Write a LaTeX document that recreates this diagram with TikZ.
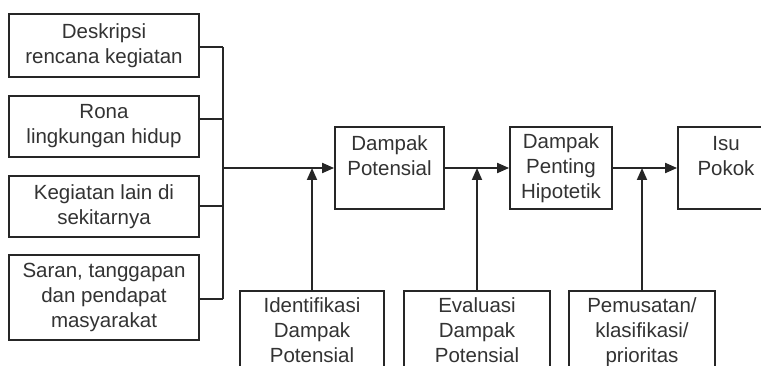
\documentclass[tikz,border=0pt]{standalone}
\usepackage{fontspec}
\setmainfont{Liberation Sans}
\usetikzlibrary{arrows.meta}
\definecolor{ln}{HTML}{262626}
\definecolor{tx}{HTML}{333333}
\begin{document}
\begin{tikzpicture}[x=1pt,y=-1pt,
  font=\fontsize{20.5}{25}\selectfont,
  every node/.style={text=tx},
  box/.style={draw=ln,line width=1.8pt,align=center,inner sep=0pt},
  lowbox/.style={draw=ln,line width=1.8pt,align=center,inner xsep=0pt,inner ysep=7pt,anchor=north},
  con/.style={draw=ln,line width=1.8pt},
  arr/.style={con,-{Triangle[length=12pt,width=10pt]}}]
\useasboundingbox (0,0) rectangle (761,366);
\clip (0,0) rectangle (761,366);
\fill[white] (0,0) rectangle (761,366);
% left input boxes
\node[box,minimum width=190pt,minimum height=63pt] (b1) at (104,45.5) {Deskripsi\\rencana kegiatan};
\node[box,minimum width=190pt,minimum height=61pt] (b2) at (104,126.5) {Rona\\lingkungan hidup};
\node[box,minimum width=190pt,minimum height=61pt] (b3) at (104,206.5) {Kegiatan lain di\\sekitarnya};
\node[box,minimum width=190pt,minimum height=85pt] (b4) at (104,297.5) {Saran, tanggapan\\dan pendapat\\masyarakat};
% main chain
\node[box,minimum width=109pt,minimum height=82pt] (dp) at (389.5,168) {Dampak\\Potensial\\\mbox{}};
\node[box,minimum width=102pt,minimum height=82pt] (dph) at (561,168) {Dampak\\Penting\\Hipotetik};
\node[box,minimum width=96pt,minimum height=82pt] (isu) at (726,168) {Isu\\Pokok\\\mbox{}};
% lower process boxes
\node[lowbox,minimum width=144pt] (idb) at (312,290) {Identifikasi\\Dampak\\Potensial};
\node[lowbox,minimum width=146pt] (evb) at (477,290) {Evaluasi\\Dampak\\Potensial};
\node[lowbox,minimum width=146pt] (pmb) at (642,290) {Pemusatan/\\klasifikasi/\\prioritas};
% bus
\coordinate (j1) at (223,47);
\coordinate (j2) at (223,119);
\coordinate (j3) at (223,206);
\coordinate (j4) at (223,299);
\coordinate (jm) at (223,168);
\draw[con] (j1) -- (j4);
\draw[con] (b1.east |- j1) -- (j1);
\draw[con] (b2.east |- j2) -- (j2);
\draw[con] (b3.east |- j3) -- (j3);
\draw[con] (b4.east |- j4) -- (j4);
% horizontal arrows
\draw[arr] (jm) -- (dp.west);
\draw[arr] (dp.east) -- (dph.west);
\draw[arr] (dph.east) -- (isu.west);
% vertical arrows
\draw[arr] (idb.north) -- (idb.north |- dp.west);
\draw[arr] (evb.north) -- (evb.north |- dp.east);
\draw[arr] (pmb.north) -- (pmb.north |- dph.east);
\end{tikzpicture}
\end{document}
